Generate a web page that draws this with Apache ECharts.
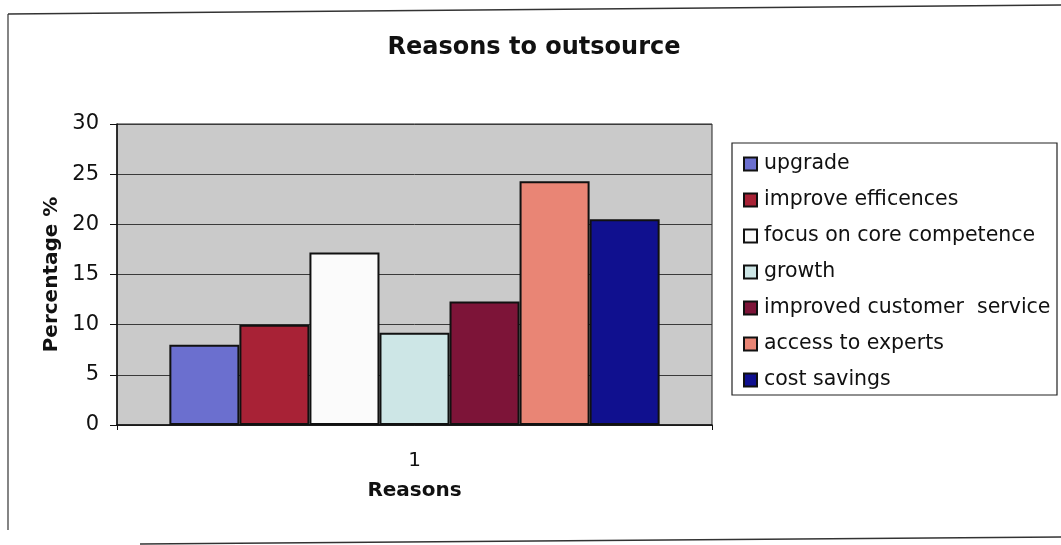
<!DOCTYPE html>
<html>
<head>
<meta charset="utf-8">
<script src="https://cdn.jsdelivr.net/npm/echarts@6/dist/echarts.min.js"></script>
<style>
  html, body { margin: 0; padding: 0; background: #ffffff; }
  #chart { width: 1061px; height: 545px; }
</style>
</head>
<body>
<div id="chart"></div>
<script>
// Survey results: share of respondents (%) naming each reason to outsource
const categories = ['1'];
const reasonNames = [
  'upgrade',
  'improve efficences',
  'focus on core competence',
  'growth',
  'improved customer  service',
  'access to experts',
  'cost savings'
];
const reasonValues = [8, 10, 17.2, 9.2, 12.3, 24.3, 20.5];
const reasonColors = ['#6b6fcf', '#a82236', '#fbfbfb', '#cde6e6', '#7d1438', '#e98575', '#10108f'];
const yTicks = { min: 0, max: 30, step: 5 };

const FONT = 'DejaVu Sans';

const series = reasonNames.map((name, i) => ({
  name: name,
  type: 'bar',
  data: [reasonValues[i]],
  barGap: '0%',
  barCategoryGap: '17.6%',
  itemStyle: { color: reasonColors[i], borderColor: '#111', borderWidth: 2 },
  emphasis: { disabled: true },
  animation: false
}));

const chart = echarts.init(document.getElementById('chart'), null, { renderer: 'canvas' });
chart.setOption({
  animation: false,
  backgroundColor: '#ffffff',
  title: {
    text: 'Reasons to outsource',
    left: 529,
    top: 31,
    textAlign: 'center',
    textStyle: { fontFamily: FONT, fontWeight: 'bold', fontSize: 24, color: '#111' }
  },
  grid: {
    left: 117, right: 349, top: 124, bottom: 120,
    show: true,
    backgroundColor: '#cacaca',
    borderColor: '#222',
    borderWidth: 1
  },
  legend: {
    orient: 'vertical',
    left: 738,
    top: 147,
    itemWidth: 13,
    itemHeight: 13,
    itemGap: 12,
    icon: 'rect',
    selectedMode: false,
    data: reasonNames,
    textStyle: { fontFamily: FONT, fontSize: 20.5, color: '#111', lineHeight: 24, padding: [0, 0, 0, 2] }
  },
  xAxis: {
    type: 'category',
    data: categories,
    name: 'Reasons',
    nameLocation: 'middle',
    nameGap: 56,
    nameTextStyle: { fontFamily: FONT, fontWeight: 'bold', fontSize: 20, color: '#111' },
    axisLine: { lineStyle: { color: '#111', width: 1.5 } },
    axisTick: { show: true, length: 5, lineStyle: { color: '#111' } },
    axisLabel: { fontFamily: FONT, fontSize: 20, color: '#111', margin: 26 },
    splitLine: { show: false }
  },
  yAxis: {
    type: 'value',
    min: yTicks.min,
    max: yTicks.max,
    interval: yTicks.step,
    name: 'Percentage %',
    nameLocation: 'middle',
    nameGap: 47,
    nameRotate: 90,
    nameTextStyle: { fontFamily: FONT, fontWeight: 'bold', fontSize: 20, color: '#111' },
    axisLine: { show: true, lineStyle: { color: '#111', width: 1.5 } },
    axisTick: { show: true, length: 7, lineStyle: { color: '#111' } },
    axisLabel: { fontFamily: FONT, fontSize: 21, color: '#111', margin: 18 },
    splitLine: { show: true, lineStyle: { color: '#3a3a3a', width: 1 } }
  },
  graphic: [
    // legend frame
    { type: 'rect', shape: { x: 732, y: 143, width: 325, height: 252 },
      style: { fill: 'none', stroke: '#222', lineWidth: 1.2 }, z: 10 },
    // outer chart frame
    { type: 'line', shape: { x1: 8, y1: 14, x2: 1061, y2: 5 }, style: { stroke: '#333', lineWidth: 1.5 } },
    { type: 'line', shape: { x1: 8, y1: 14, x2: 8, y2: 530 }, style: { stroke: '#333', lineWidth: 1.2 } },
    { type: 'line', shape: { x1: 140, y1: 544, x2: 1061, y2: 537 }, style: { stroke: '#333', lineWidth: 1.5 } }
  ],
  series: series
});
</script>
</body>
</html>
